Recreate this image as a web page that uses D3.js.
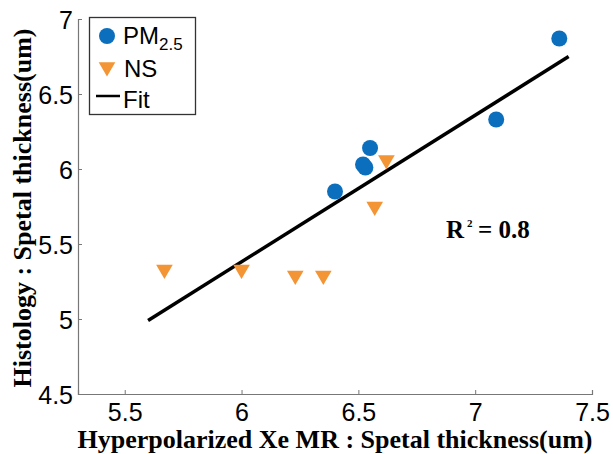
<!DOCTYPE html>
<meta charset="utf-8">
<script src="https://d3js.org/d3.v7.min.js"></script>
<style>
  body { margin: 0; background: #fff; }
</style>
<div id="chart"></div>
<script>

// PM2.5 group
var pmX = [7.36, 7.09, 6.55, 6.52, 6.53, 6.40];
var pmY = [6.87, 6.33, 6.14, 6.03, 6.01, 5.85];

// NS group
var nsX = [6.62, 6.57, 5.67, 6.00, 6.23, 6.35];
var nsY = [6.06, 5.75, 5.33, 5.33, 5.29, 5.29];

// fit line ends
var fitX = [5.60, 7.40];
var fitY = [4.99, 6.75];

var xTicks = [5.5, 6, 6.5, 7, 7.5];
var yTicks = [4.5, 5, 5.5, 6, 6.5, 7];

var W = 613, H = 454;
var blue = "#0b6fbe", orange = "#f39435";
var sans = "'Liberation Sans', Arial, sans-serif";
var serif = "'Liberation Serif', 'Times New Roman', serif";

var svg = d3.select("#chart").append("svg")
  .attr("width", W).attr("height", H);

var x = d3.scaleLinear().domain([5.3, 7.5]).range([78, 592]);
var y = d3.scaleLinear().domain([4.5, 7]).range([394, 19]);

// axes
var xAxis = svg.append("g")
  .attr("transform", "translate(0,394)")
  .call(d3.axisBottom(x).tickValues(xTicks).tickSize(-4).tickPadding(9)
    .tickFormat(d3.format("")));
var yAxis = svg.append("g")
  .attr("transform", "translate(78,0)")
  .call(d3.axisLeft(y).tickValues(yTicks).tickSize(-4).tickPadding(5)
    .tickFormat(d3.format("")));

[xAxis, yAxis].forEach(function(a) {
  a.select(".domain").attr("stroke", "#777").attr("stroke-width", 1.2);
  a.selectAll(".tick line").attr("stroke", "#777");
  a.selectAll("text").attr("fill", "#000")
    .style("font-family", sans)
    .style("font-size", "25px");
});
xAxis.selectAll("text").attr("dy", "0.71em");
yAxis.selectAll("text").attr("dy", "0.36em");

// fit
svg.append("line")
  .attr("x1", x(fitX[0])).attr("y1", y(fitY[0]))
  .attr("x2", x(fitX[1])).attr("y2", y(fitY[1]))
  .attr("stroke", "#000").attr("stroke-width", 3.5);

// NS triangles
var tri = d3.symbol().type(d3.symbolTriangle).size(120);
svg.selectAll(".ns").data(nsX).enter().append("path")
  .attr("class", "ns")
  .attr("d", tri)
  .attr("transform", function(d, i) {
    return "translate(" + x(d) + "," + y(nsY[i]) + ") rotate(180)";
  })
  .attr("fill", orange);

// PM circles
svg.selectAll(".pm").data(pmX).enter().append("circle")
  .attr("class", "pm")
  .attr("cx", function(d) { return x(d); })
  .attr("cy", function(d, i) { return y(pmY[i]); })
  .attr("r", 8)
  .attr("fill", blue);

// legend
var lg = svg.append("g");
lg.append("rect").attr("x", 89.5).attr("y", 17.5).attr("width", 106).attr("height", 97)
  .attr("fill", "#fff").attr("stroke", "#333").attr("stroke-width", 1.3);
lg.append("circle").attr("cx", 107).attr("cy", 36).attr("r", 8).attr("fill", blue);
lg.append("path").attr("d", tri)
  .attr("transform", "translate(107,67) rotate(180)").attr("fill", orange);
lg.append("line").attr("x1", 96).attr("x2", 120).attr("y1", 96).attr("y2", 96)
  .attr("stroke", "#000").attr("stroke-width", 2.5);

var lt = lg.append("g")
  .style("font-family", sans)
  .style("font-size", "24px").attr("fill", "#000");
var pm = lt.append("text").attr("x", 123).attr("y", 44).text("PM");
pm.append("tspan").attr("dy", 6).style("font-size", "17px").text("2.5");
lt.append("text").attr("x", 124).attr("y", 77).text("NS");
lt.append("text").attr("x", 123).attr("y", 108).text("Fit");

// R^2 note
var r2 = svg.append("g")
  .style("font-family", serif)
  .style("font-weight", "bold").attr("fill", "#000");
r2.append("text").attr("x", 446).attr("y", 238).style("font-size", "25px").text("R");
r2.append("text").attr("x", 467).attr("y", 227).style("font-size", "11px").text("2");
r2.append("text").attr("x", 478).attr("y", 238).style("font-size", "25px").text("= 0.8");

// axis titles
svg.append("text").attr("x", 335).attr("y", 448)
  .attr("text-anchor", "middle")
  .style("font-family", serif)
  .style("font-weight", "bold").style("font-size", "26px")
  .text("Hyperpolarized Xe MR : Spetal thickness(um)");

svg.append("text")
  .attr("transform", "translate(31,208) rotate(-90)")
  .attr("text-anchor", "middle")
  .style("font-family", serif)
  .style("font-weight", "bold").style("font-size", "26px")
  .text("Histology : Spetal thickness(um)");

</script>
